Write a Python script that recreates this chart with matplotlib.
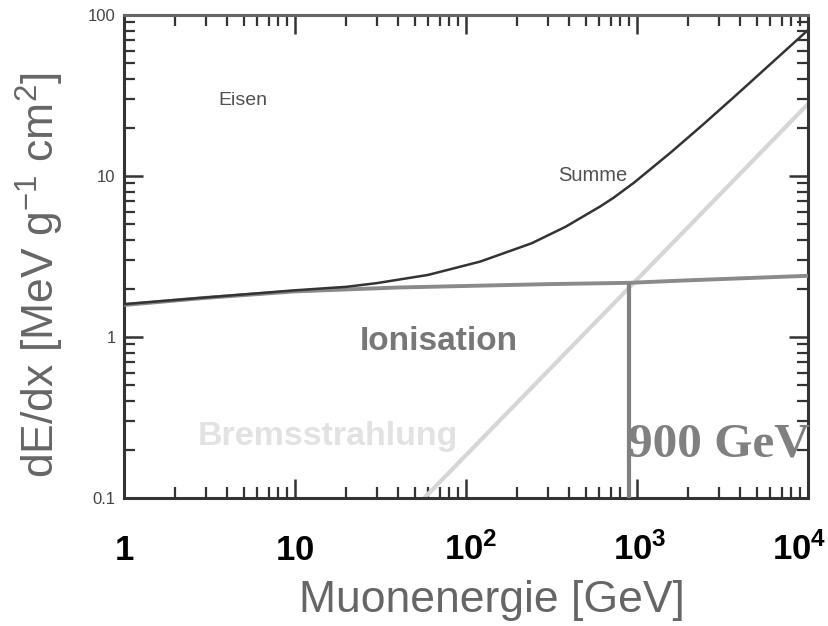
import matplotlib
matplotlib.use("Agg")
import matplotlib.pyplot as plt
from matplotlib.ticker import LogLocator, NullFormatter, FixedLocator
from matplotlib.transforms import blended_transform_factory, offset_copy

plt.rcParams['font.family'] = ['Liberation Sans', 'DejaVu Sans']
plt.rcParams['mathtext.fontset'] = 'custom'
plt.rcParams['mathtext.rm'] = 'Liberation Sans'
plt.rcParams['mathtext.bf'] = 'Liberation Sans:bold'
plt.rcParams['mathtext.it'] = 'Liberation Sans:italic'

# Energy loss of muons in iron (dE/dx in MeV g^-1 cm^2 vs. muon energy in GeV)
summe_E = [1, 3, 10, 20, 30, 60, 121, 242, 381, 608, 730, 959, 1563, 2400, 3725,
           8990, 10000]
summe_dEdx = [1.60, 1.76, 1.95, 2.05, 2.16, 2.43, 2.94, 3.82, 4.83, 6.46, 7.33, 9.08,
              13.9, 20.6, 31.2, 72.8, 80.7]

ion_E = [1, 3, 10, 40, 300, 900, 1800, 10000]
ion_dEdx = [1.58, 1.75, 1.92, 2.03, 2.13, 2.17, 2.24, 2.40]

brems_E = [57, 10000]
brems_dEdx = [0.1, 28]

crit_E = 900
crit_dEdx = [0.1, 2.17]

x_ticks = [1, 10, 100, 1000, 10000]
x_tick_labels = [r'$\mathbf{1}$', r'$\mathbf{10}$', r'$\mathbf{10^{2}}$',
                 r'$\mathbf{10^{3}}$', r'$\mathbf{10^{4}}$']
x_label_shift = [0, 0, 5, 3, -9]   # horizontal nudge of each label, in pixels
y_ticks = [0.1, 1, 10, 100]
y_tick_labels = ['0.1', '1', '10', '100']

fig = plt.figure(figsize=(8.29, 6.26), dpi=100)
fig.patch.set_facecolor('white')
ax = fig.add_axes([124 / 829, 128 / 626, 684 / 829, 483 / 626])
ax.set_xscale('log')
ax.set_yscale('log')
ax.set_xlim(1, 1e4)
ax.set_ylim(0.1, 100)

ax.plot(brems_E, brems_dEdx, color='#d6d6d6', lw=3.0, solid_capstyle='butt', zorder=2)
ax.plot(ion_E, ion_dEdx, color='#8a8a8a', lw=2.8, solid_capstyle='butt', zorder=3)
ax.plot([crit_E, crit_E], crit_dEdx, color='#808080', lw=3.0, solid_capstyle='butt', zorder=3)
ax.plot(summe_E, summe_dEdx, color='#333333', lw=1.8, zorder=4)

# Annotations
ax.text(0.174, 0.824, 'Eisen', transform=ax.transAxes, ha='center', va='center',
        fontsize=14, color='#505050')
ax.text(0.686, 0.667, 'Summe', transform=ax.transAxes, ha='center', va='center',
        fontsize=14.5, color='#505050')
ax.text(0.4605, 0.325, 'Ionisation', transform=ax.transAxes, ha='center', va='center',
        fontsize=24, fontweight='bold', color='#777777')
ax.text(0.298, 0.11, 'Bremsstrahlung', transform=ax.transAxes, ha='center', va='baseline',
        fontsize=24.5, fontweight='bold', color='#e2e2e2')
ax.text(0.737, 0.085, '900 GeV', transform=ax.transAxes, ha='left', va='baseline',
        fontsize=35.5, fontweight='bold', family='Liberation Serif', color='#808080')

# Axes frame and ticks
for side in ['left', 'bottom', 'right']:
    ax.spines[side].set_color('#333333')
    ax.spines[side].set_linewidth(2.2)
ax.spines['top'].set_color('#666666')
ax.spines['top'].set_linewidth(2.2)

ax.xaxis.set_major_locator(FixedLocator(x_ticks))
ax.yaxis.set_major_locator(FixedLocator(y_ticks))
ax.xaxis.set_minor_locator(LogLocator(base=10, subs=range(2, 10)))
ax.yaxis.set_minor_locator(LogLocator(base=10, subs=range(2, 10)))
ax.xaxis.set_minor_formatter(NullFormatter())
ax.yaxis.set_minor_formatter(NullFormatter())
ax.set_xticklabels([])
ax.set_yticklabels(y_tick_labels)

ax.tick_params(which='both', direction='in', top=True, right=True, color='#333333')
ax.tick_params(which='major', length=14, width=1.8)
ax.tick_params(which='minor', length=8, width=1.6)
ax.tick_params(axis='y', which='major', pad=6, labelsize=12, labelcolor='#444444')

# Bold decade labels under the energy axis
xlab_trans = blended_transform_factory(ax.transData, ax.transAxes)
for xv, txt, dx in zip(x_ticks, x_tick_labels, x_label_shift):
    tr = offset_copy(xlab_trans, fig=fig, x=dx, y=0, units='dots')
    ax.text(xv, -0.128, txt, transform=tr, ha='center', va='baseline',
            fontsize=25, color='black', clip_on=False)

fig.text(40 / 829, 1 - 275 / 626, r'dE/dx [MeV g$^{-1}$ cm$^{2}$]', rotation=90,
         ha='center', va='center', fontsize=32, color='#666666')
fig.text(492 / 829, 14 / 626, 'Muonenergie [GeV]', ha='center', va='baseline',
         fontsize=32, color='#666666')

fig.savefig('out.png', dpi=100, facecolor='white')
